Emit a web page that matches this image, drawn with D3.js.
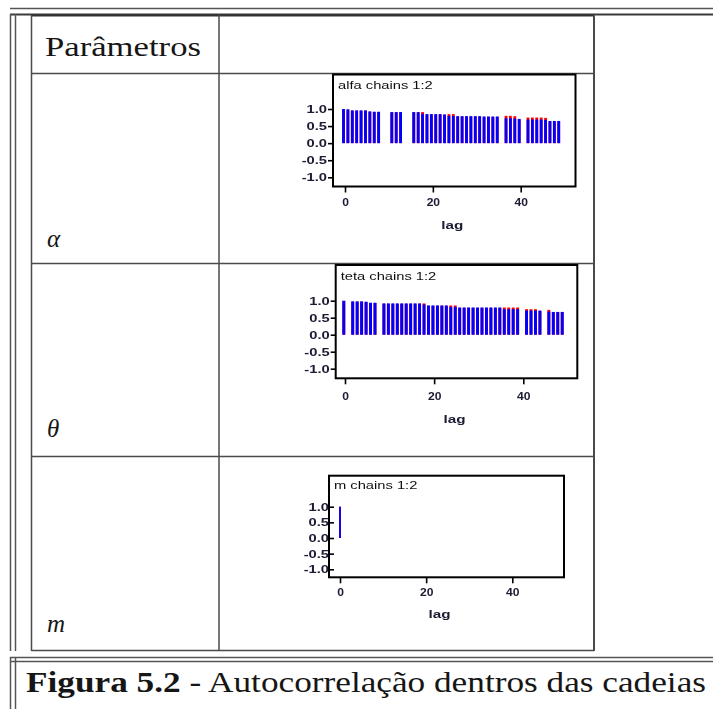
<!DOCTYPE html>
<html>
<head>
<meta charset="utf-8">
<script src="https://cdn.jsdelivr.net/npm/d3@7"></script>
<style>
  body { margin: 0; background: #fff; }
  svg { display: block; }
</style>
</head>
<body>
<svg id="fig" width="713" height="709"></svg>
<script>
// ---- data: autocorrelation by lag, two chains per parameter ----
const lags = d3.range(0, 50);

const alfaChain1 = [1.00, 0.99, 0.96, 0.96, 0.96, 0.96, 0.93, 0.92, 0.92, null,
                    null, 0.91, 0.91, 0.91, null, null, 0.91, 0.91, 0.86, 0.85,
                    0.85, 0.85, 0.85, 0.84, 0.80, 0.80, 0.79, 0.79, 0.79, 0.79,
                    0.79, 0.79, 0.78, 0.78, 0.78, 0.78, null, 0.73, 0.73, 0.72,
                    0.71, null, 0.69, 0.69, 0.69, 0.69, 0.68, 0.65, 0.65, 0.65];
const alfaChain2 = [0.99, 0.98, 0.95, 0.95, 0.95, 0.95, 0.92, 0.91, 0.91, null,
                    null, 0.90, 0.90, 0.90, null, null, 0.90, 0.90, 0.91, 0.84,
                    0.84, 0.84, 0.84, 0.83, 0.85, 0.85, 0.78, 0.78, 0.78, 0.78,
                    0.78, 0.78, 0.77, 0.77, 0.77, 0.77, null, 0.80, 0.80, 0.79,
                    0.70, null, 0.75, 0.75, 0.75, 0.75, 0.74, 0.64, 0.64, 0.64];

const tetaChain1 = [1.00, null, 0.98, 0.98, 0.98, 0.97, 0.94, 0.94, null, 0.92,
                    0.92, 0.92, 0.92, 0.92, 0.92, 0.92, 0.92, 0.92, 0.89, 0.86,
                    0.86, 0.86, 0.86, 0.86, 0.82, 0.82, 0.80, 0.80, 0.80, 0.80,
                    0.80, 0.80, 0.80, 0.80, 0.80, 0.80, 0.75, 0.75, 0.75, 0.75,
                    null, 0.71, 0.71, 0.71, 0.71, null, 0.68, 0.67, 0.67, 0.67];
const tetaChain2 = [0.99, null, 0.97, 0.97, 0.97, 0.96, 0.93, 0.93, null, 0.91,
                    0.91, 0.91, 0.91, 0.91, 0.91, 0.91, 0.91, 0.91, 0.92, 0.85,
                    0.85, 0.85, 0.85, 0.85, 0.86, 0.86, 0.79, 0.79, 0.79, 0.79,
                    0.79, 0.79, 0.79, 0.79, 0.79, 0.79, 0.80, 0.80, 0.80, 0.80,
                    null, 0.75, 0.75, 0.75, 0.70, null, 0.73, 0.66, 0.66, 0.66];

// m is constant after the first draw: only lag 0 is defined
const mChain1 = [1.00];
const mChain2 = [1.00];

const yTicks = [-1.0, -0.5, 0.0, 0.5, 1.0];
const xTicks = [0, 20, 40];
const paramSymbols = ["α", "θ", "m"];
const panelTitles = ["alfa chains 1:2", "teta chains 1:2", "m chains 1:2"];
const chainColors = ["#0000ff", "#ff0000"];

const headerLabel = "Parâmetros";
const captionBold = "Figura 5.2";
const captionRest = " - Autocorrelação dentros das cadeias";

// ---- layout ----
const svg = d3.select("#fig");
const serif = "'Liberation Serif', 'DejaVu Serif', serif";
const sans = "'Liberation Sans', Arial, sans-serif";

const defs = svg.append("defs");
defs.append("filter").attr("id", "soft")
  .attr("x", "-5%").attr("y", "-5%").attr("width", "110%").attr("height", "110%")
  .append("feGaussianBlur").attr("stdDeviation", 0.35);

const rule = (x1, y1, x2, y2, w = 1.5, c = "#4a4a4a") =>
  svg.append("line").attr("x1", x1).attr("y1", y1).attr("x2", x2).attr("y2", y2)
     .attr("stroke", c).attr("stroke-width", w);

// page rules and table frame
rule(10, 8.5, 713, 8.5, 1.5, "#555");
rule(10, 14.5, 713, 14.5, 2, "#3a3a3a");
rule(10.5, 14, 10.5, 651, 1.5, "#555");
rule(15.5, 14, 15.5, 651, 1.5, "#555");
rule(31.5, 15.5, 594, 15.5, 2, "#333");
rule(31.5, 15, 31.5, 651);
rule(594, 15, 594, 651, 2, "#4a4a4a");
rule(219, 15, 219, 651);
[73.5, 263.5, 456.5, 650.5].forEach(y => rule(31.5, y, 594, y));

// caption box
rule(10, 657.5, 713, 657.5, 1.5, "#555");
rule(10, 661.5, 713, 661.5, 1.5, "#555");
rule(10.5, 657, 10.5, 709, 1.5, "#555");
rule(15.5, 657, 15.5, 709, 1.5, "#555");

// widen a serif line to a given width (glyphs and spacing together)
function spanWidth(sel, width) {
  sel.attr("textLength", width).attr("lengthAdjust", "spacingAndGlyphs");
}

const header = svg.append("text").attr("x", 45).attr("y", 56)
  .attr("font-family", serif).attr("font-size", 27).attr("fill", "#161616")
  .text(headerLabel);
spanWidth(header, 156);

const symbolBaselines = [247, 437, 632];
paramSymbols.forEach((s, i) => {
  svg.append("text").attr("x", 47).attr("y", symbolBaselines[i])
    .attr("font-family", serif).attr("font-style", "italic")
    .attr("font-size", 25).attr("fill", "#161616").text(s);
});

const caption = svg.append("text").attr("x", 26).attr("y", 692)
  .attr("font-family", serif).attr("font-size", 30).attr("fill", "#161616");
caption.append("tspan").attr("font-weight", "bold").text(captionBold);
caption.append("tspan").text(captionRest);
spanWidth(caption, 680);

// ---- autocorrelation panels ----
const panels = [
  { title: panelTitles[0], chains: [alfaChain1, alfaChain2],
    frame: { x0: 333, y0: 74.5, x1: 575.5, y1: 186.5 },
    xAt0: 345, xAt40: 520.7, yTop: 109, yBot: 177.3,
    tickOut: true, barOff: -1.5, barW: 2.8,
    titleY: 89, tickLabelY: 206, lagY: 229 },
  { title: panelTitles[1], chains: [tetaChain1, tetaChain2],
    frame: { x0: 335.7, y0: 265, x1: 577.3, y1: 378.3 },
    xAt0: 345, xAt40: 523.3, yTop: 300.7, yBot: 368.7,
    tickOut: true, barOff: -1.2, barW: 2.9,
    titleY: 280, tickLabelY: 400, lagY: 423 },
  { title: panelTitles[2], chains: [mChain1, mChain2],
    frame: { x0: 329, y0: 475.7, x1: 564, y1: 577.3 },
    xAt0: 340, xAt40: 512.3, yTop: 506.7, yBot: 569.3,
    tickOut: false, barOff: 0, barW: 1.8,
    titleY: 489, tickLabelY: 596, lagY: 618 }
];

function stretch(sel, k) {
  sel.each(function () {
    const w = this.getComputedTextLength();
    d3.select(this).attr("textLength", w * k).attr("lengthAdjust", "spacingAndGlyphs");
  });
}

panels.forEach(p => {
  const g = svg.append("g").attr("filter", "url(#soft)");
  const f = p.frame;

  const x = d3.scaleLinear().domain([0, 40]).range([p.xAt0, p.xAt40]);
  const y = d3.scaleLinear().domain([-1, 1]).range([p.yBot, p.yTop]);

  // bars: second chain underneath, first chain on top
  [1, 0].forEach(ci => {
    const vals = p.chains[ci];
    const pts = lags.map(l => ({ lag: l, v: vals[l] }))
      .filter(d => d.v != null && !isNaN(d.v));
    g.append("g").selectAll("rect").data(pts).join("rect")
      .attr("x", d => x(d.lag) + p.barOff - p.barW / 2)
      .attr("width", p.barW)
      .attr("y", d => y(Math.max(d.v, 0)))
      .attr("height", d => Math.abs(y(d.v) - y(0)))
      .attr("fill", chainColors[ci]);
  });

  // frame
  g.append("rect").attr("x", f.x0).attr("y", f.y0)
    .attr("width", f.x1 - f.x0).attr("height", f.y1 - f.y0)
    .attr("fill", "none").attr("stroke", "#000").attr("stroke-width", 2);

  // y axis on the frame's left edge
  const yAxis = d3.axisLeft(y).tickValues(yTicks).tickFormat(d => d.toFixed(1))
    .tickSizeOuter(0);
  if (p.tickOut) yAxis.tickSizeInner(5).tickPadding(1);
  else yAxis.tickSizeInner(-5).tickPadding(0);
  const ya = g.append("g").attr("transform", `translate(${f.x0},0)`).call(yAxis);
  ya.select(".domain").remove();
  ya.selectAll(".tick line").attr("stroke", "#000").attr("stroke-width", 1.6);
  const yl = ya.selectAll(".tick text").attr("font-family", sans)
    .attr("font-size", 10.5).attr("font-weight", "bold").attr("fill", "#1a1a33");
  stretch(yl, 1.4);

  // x axis below the frame
  const xAxis = d3.axisBottom(x).tickValues(xTicks).tickSizeInner(6).tickSizeOuter(0);
  const xa = g.append("g").attr("transform", `translate(0,${f.y1})`).call(xAxis);
  xa.select(".domain").remove();
  xa.selectAll(".tick line").attr("stroke", "#000").attr("stroke-width", 1.6);
  const xl = xa.selectAll(".tick text").attr("font-family", sans).attr("font-size", 10.5)
    .attr("font-weight", "bold").attr("fill", "#1a1a33")
    .attr("dy", null).attr("y", p.tickLabelY - f.y1);
  stretch(xl, 1.15);

  // panel title and axis label
  const t = g.append("text").attr("x", f.x0 + 5).attr("y", p.titleY)
    .attr("font-family", sans).attr("font-size", 10.5).attr("fill", "#111")
    .text(p.title);
  stretch(t, 1.4);

  const lx = (f.x0 + f.x1) / 2 + (p.tickOut ? -2 : -7);
  const lg = g.append("text").attr("x", lx).attr("y", p.lagY)
    .attr("text-anchor", "middle").attr("font-family", sans)
    .attr("font-size", 10.5).attr("font-weight", "bold").attr("fill", "#1a1a33")
    .text("lag");
  stretch(lg, 1.45);
});
</script>
</body>
</html>
